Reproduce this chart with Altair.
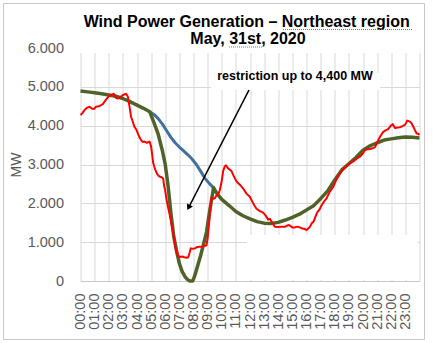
import altair as alt
import pandas as pd

# ---------------- data ----------------
green_hours = [0, 0.5, 1, 1.5, 2, 2.5, 3, 3.5, 4, 4.5, 4.9,
               5.2, 5.5, 5.8, 6.0, 6.2, 6.4, 6.6, 6.8, 7.0, 7.2, 7.4, 7.6, 7.75, 7.95,
               8.1, 8.3, 8.5, 8.7, 8.92, 9.1, 9.25, 9.42,
               9.7, 10.0, 10.5, 11.0, 11.5, 12.0, 12.5, 13.0, 13.5, 14.0, 14.5, 15.0,
               15.5, 16.0, 16.5, 17.0, 17.5, 18.0, 18.5, 19.0, 19.5, 20.0, 20.5, 21.0,
               21.5, 22.0, 22.5, 23.0, 23.5, 24.0]
green_mw = [4890, 4870, 4850, 4820, 4790, 4760, 4700, 4620, 4530, 4440, 4360,
            4080, 3780, 3350, 3000, 2450, 1750, 1150, 780, 450, 240, 110, 30, 0, 0,
            150, 400, 650, 930, 1260, 1700, 2030, 2400,
            2230, 2100, 1950, 1790, 1680, 1600, 1530, 1490, 1480, 1510, 1570, 1640,
            1720, 1830, 1940, 2120, 2320, 2600, 2860, 3020, 3180, 3370, 3480, 3560,
            3630, 3660, 3690, 3710, 3700, 3680]

blue_hours = [4.9, 5.2, 5.5, 5.8, 6.1, 6.4, 6.7, 7.0, 7.3, 7.6, 7.9, 8.2, 8.5, 8.8, 9.1, 9.42]
blue_mw = [4360, 4290, 4180, 4040, 3870, 3700, 3560, 3450, 3350, 3250, 3140, 3000, 2830, 2650, 2520, 2400]

red_hours = [0.00, 0.15, 0.28, 0.45, 0.64, 0.80, 0.95, 1.10, 1.30, 1.46, 1.60, 1.70, 1.85, 1.98,
             2.17, 2.36, 2.45, 2.52, 2.65, 2.76, 2.90, 3.00, 3.15, 3.23, 3.35, 3.42, 3.47, 3.58,
             3.70, 3.82, 3.95, 4.06, 4.18, 4.29, 4.40, 4.53, 4.70, 4.89, 5.00, 5.06, 5.14, 5.22,
             5.30, 5.42, 5.59, 5.75, 5.85, 5.92, 5.99, 6.09, 6.20, 6.32, 6.45, 6.56, 6.68, 6.80,
             6.92, 7.03, 7.20, 7.35, 7.50, 7.62, 7.72, 7.80, 7.95, 8.10, 8.22, 8.40, 8.57, 8.75,
             8.92, 9.00, 9.08, 9.16, 9.28, 9.40, 9.51, 9.62, 9.75, 9.87, 9.99, 10.10, 10.22, 10.30,
             10.45, 10.60, 10.69, 10.85, 11.05, 11.28, 11.52, 11.75, 11.99, 12.15, 12.30, 12.46,
             12.70, 12.93, 13.10, 13.29, 13.41, 13.60, 13.76, 14.00, 14.23, 14.50, 14.70, 14.82,
             15.00, 15.18, 15.35, 15.53, 15.70, 15.89, 16.00, 16.12, 16.25, 16.36, 16.50, 16.59,
             16.75, 16.90, 17.07, 17.25, 17.42, 17.65, 17.90, 18.10, 18.36, 18.60, 18.84, 19.10,
             19.31, 19.55, 19.78, 20.00, 20.13, 20.30, 20.49, 20.70, 20.84, 20.96, 21.08, 21.25,
             21.43, 21.60, 21.78, 21.95, 22.10, 22.26, 22.45, 22.61, 22.80, 22.97, 23.13, 23.30,
             23.44, 23.58, 23.67, 23.80, 23.90, 24.00]
red_mw = [4270, 4330, 4400, 4460, 4490, 4440, 4430, 4490, 4500, 4530, 4560, 4620, 4690, 4750,
          4790, 4820, 4760, 4710, 4700, 4710, 4760, 4790, 4810, 4820, 4750, 4600, 4490, 4230,
          4100, 3970, 3900, 3800, 3700, 3630, 3580, 3590, 3560, 3590, 3460, 3300, 3050, 2950,
          2860, 2760, 2690, 2670, 2640, 2450, 2340, 2100, 1900, 1700, 1450, 1250, 950, 720,
          640, 620, 630, 610, 600, 610, 720, 840, 830, 840, 870, 880, 880, 900,
          920, 1100, 1400, 1700, 2150, 2120, 2130, 2200, 2220, 2350, 2560, 2830, 2960, 2980,
          2900, 2860, 2830, 2700, 2560, 2480, 2380, 2250, 2170, 2050, 1950, 1860,
          1800, 1760, 1690, 1580, 1600, 1480, 1400, 1390, 1400, 1400, 1440, 1430,
          1380, 1380, 1400, 1380, 1350, 1340, 1310, 1350, 1400, 1480, 1530, 1610,
          1760, 1830, 1950, 2050, 2130, 2300, 2430, 2600, 2770, 2880, 2960, 3040,
          3080, 3150, 3200, 3290, 3370, 3390, 3400, 3420, 3440, 3530, 3630, 3740,
          3840, 3880, 3910, 3990, 4040, 3940, 3950, 3960, 3990, 4020, 4130, 4110,
          4060, 3960, 3890, 3800, 3790, 3760]

hour_ticks = list(range(25))
mw_ticks = [0, 1000, 2000, 3000, 4000, 5000, 6000]

title_lines = ["Wind Power Generation – Northeast region", "May, 31st, 2020"]
annotation = "restriction up to 4,400 MW"
y_title = "MW"

# ---------------- layout ----------------
PAD_L, PAD_T, PAD_R, PAD_B = 80.5, 48, 13.5, 62
W, H = 339, 233
FONT = "Liberation Sans"
GRAY = "#595959"
GRID = "#d9d9d9"

green = pd.DataFrame({"h": green_hours, "mw": green_mw})
blue = pd.DataFrame({"h": blue_hours, "mw": blue_mw})
red = pd.DataFrame({"h": red_hours, "mw": red_mw})
one = pd.DataFrame({"a": [0]})

x_enc = alt.X("h:Q",
              scale=alt.Scale(domain=[0, 24], nice=False, zero=False),
              axis=alt.Axis(values=hour_ticks, title=None,
                            labelExpr="datum.value < 24 ? (datum.value < 10 ? '0' : '') + datum.value + ':00' : ''",
                            labelAngle=270, labelAlign="right", labelBaseline="middle",
                            labelFont=FONT, labelFontSize=14.5, labelColor=GRAY,
                            labelPadding=12, labelFlush=False, labelOverlap=False, labelBound=False,
                            ticks=False, tickSize=0, grid=True, gridColor=GRID, gridWidth=1,
                            domain=True, domainColor="#c8c8c8", domainWidth=1))
y_enc = alt.Y("mw:Q",
              scale=alt.Scale(domain=[0, 6000], nice=False, zero=True),
              axis=alt.Axis(values=mw_ticks, title=y_title,
                            labelExpr="datum.value == 0 ? '0' : format(datum.value / 1000, '.3f')",
                            labelFont=FONT, labelFontSize=14.5, labelColor=GRAY,
                            labelPadding=17, labelFlush=False, labelOverlap=False,
                            ticks=False, tickSize=0, domain=False,
                            grid=True, gridColor=GRID, gridWidth=1,
                            titleFont=FONT, titleFontSize=14, titleFontWeight="normal",
                            titleColor=GRAY, titleAngle=270, titleAlign="center",
                            titleBaseline="middle", titleX=16 - PAD_L, titleY=H / 2))

# white boxes (text boxes in the original chart hiding gridlines), pixel coords relative to plot
def box(x0, x1, y0, y1):
    return alt.Chart(one).mark_rect(fill="white", stroke=None).encode(
        x=alt.value(x0 - PAD_L), x2=alt.value(x1 - PAD_L),
        y=alt.value(y0 - PAD_T), y2=alt.value(y1 - PAD_T))

cover_top = box(PAD_L - 1, PAD_L + W + 1, PAD_T - 1, 53)
cover_note = box(211, 380, 73, 90)
cover_br = box(247, 417.5, 235, 280)

blue_line = alt.Chart(blue).mark_line(color="#41719C", strokeWidth=3, strokeJoin="round").encode(x=x_enc, y=y_enc)
green_line = alt.Chart(green).mark_line(color="#4F6228", strokeWidth=3.5, strokeJoin="round").encode(x=x_enc, y=y_enc)
red_line = alt.Chart(red).mark_line(color="#FF0000", strokeWidth=2, strokeJoin="round").encode(x=x_enc, y=y_enc)

# annotation arrow (pixel coords)
AR_X0, AR_Y0, AR_X1, AR_Y1 = 249, 90, 189.2, 206.5
arrow_line = alt.Chart(one).mark_rule(color="black", strokeWidth=1.6).encode(
    x=alt.value(AR_X0 - PAD_L), y=alt.value(AR_Y0 - PAD_T),
    x2=alt.value(AR_X1 - PAD_L), y2=alt.value(AR_Y1 - PAD_T))
arrow_head = alt.Chart(one).mark_point(shape="triangle-up", filled=True, color="black",
                                        size=45, angle=207, opacity=1).encode(
    x=alt.value(188.6 - PAD_L), y=alt.value(207.5 - PAD_T))

note_text = alt.Chart(one).mark_text(text=annotation, font=FONT, fontSize=12.5, fontWeight="bold",
                                      color="black", align="center", baseline="alphabetic").encode(
    x=alt.value(295 - PAD_L), y=alt.value(80 - PAD_T))

title1 = alt.Chart(one).mark_text(text=title_lines[0], font=FONT, fontSize=16, fontWeight="bold",
                                   color="black", align="center", baseline="alphabetic").encode(
    x=alt.value(246.7 - PAD_L), y=alt.value(26.5 - PAD_T))
title2 = alt.Chart(one).mark_text(text=title_lines[1], font=FONT, fontSize=16, fontWeight="bold",
                                   color="black", align="center", baseline="alphabetic").encode(
    x=alt.value(248 - PAD_L), y=alt.value(44 - PAD_T))

# spell-check wavy underlines (approximated with a fine dotted red rule)
squig1 = alt.Chart(one).mark_rule(color="#ff4040", strokeWidth=1, strokeDash=[1, 1]).encode(
    x=alt.value(283 - PAD_L), x2=alt.value(413 - PAD_L), y=alt.value(29.5 - PAD_T))
squig2 = alt.Chart(one).mark_rule(color="#ff4040", strokeWidth=1, strokeDash=[1, 1]).encode(
    x=alt.value(229 - PAD_L), x2=alt.value(262 - PAD_L), y=alt.value(47 - PAD_T))

border = alt.Chart(one).mark_rect(fill="white", fillOpacity=0, stroke="#c8c8c8", strokeWidth=1).encode(
    x=alt.value(3.5 - PAD_L), x2=alt.value(424.5 - PAD_L),
    y=alt.value(3.5 - PAD_T), y2=alt.value(339.5 - PAD_T))

chart = alt.layer(
    cover_top, cover_note, cover_br,
    blue_line, green_line, red_line,
    arrow_line, arrow_head, note_text,
    title1, title2, squig1, squig2, border
).properties(
    width=W, height=H,
    autosize=alt.AutoSizeParams(type="none"),
    padding={"left": PAD_L, "top": PAD_T, "right": PAD_R, "bottom": PAD_B},
    background="white"
).configure_view(stroke=None)

chart.save("out.html", embed_options={"renderer": "svg", "actions": False})
